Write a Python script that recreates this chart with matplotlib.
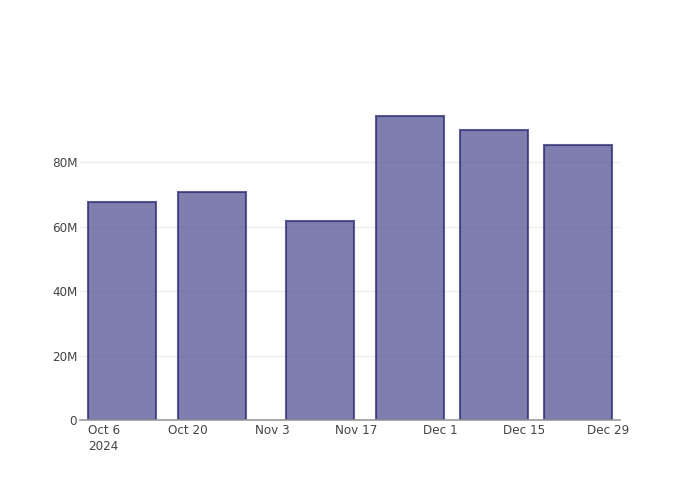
import matplotlib
matplotlib.use("Agg")
import matplotlib.pyplot as plt
import matplotlib.dates as mdates
from matplotlib.ticker import FuncFormatter
import datetime as dt

# Data
dates = ["2024-10-09", "2024-10-24", "2024-11-11", "2024-11-26", "2024-12-10", "2024-12-24"]
values = [67.5e6, 70.8e6, 61.6e6, 94.3e6, 90.1e6, 85.2e6]
tick_dates = ["2024-10-06", "2024-10-20", "2024-11-03", "2024-11-17", "2024-12-01", "2024-12-15", "2024-12-29"]
tick_labels = ["Oct 6\n2024", "Oct 20", "Nov 3", "Nov 17", "Dec 1", "Dec 15", "Dec 29"]
y_ticks = [0, 20e6, 40e6, 60e6, 80e6]

plt.rcParams['font.family'] = ['DejaVu Sans']
fig = plt.figure(figsize=(7, 5), dpi=100)
ax = fig.add_axes([80/700, 80/500, 540/700, 320/500])

x = [mdates.date2num(dt.datetime.fromisoformat(d)) for d in dates]
ax.bar(x, values, width=11.3, color=(72/255, 72/255, 142/255, 0.7),
       edgecolor=(35/255, 35/255, 110/255, 0.72), linewidth=1.5, zorder=3)

ax.set_xlim(mdates.date2num(dt.datetime(2024, 10, 2)), mdates.date2num(dt.datetime(2024, 12, 31)))
ax.set_ylim(0, 99.3e6)

ax.set_xticks([mdates.date2num(dt.datetime.fromisoformat(d)) for d in tick_dates])
ax.set_xticklabels(tick_labels, fontsize=8.64, color='#444444', linespacing=1.25)
ax.get_xticklabels()[0].set_multialignment('left')
ax.set_yticks(y_ticks)
ax.yaxis.set_major_formatter(FuncFormatter(lambda v, p: "0" if v == 0 else f"{int(v/1e6)}M"))
for lab in ax.get_yticklabels():
    lab.set_fontsize(8.64)
    lab.set_color('#444444')
ax.tick_params(axis='both', length=0)
ax.tick_params(axis='x', pad=3)
ax.tick_params(axis='y', pad=2)

ax.grid(axis='y', color='#eeeeee', linewidth=1, zorder=0)
for s in ['top', 'right', 'left']:
    ax.spines[s].set_visible(False)
ax.spines['bottom'].set_color('#999999')
ax.spines['bottom'].set_linewidth(1.2)
ax.spines['bottom'].set_zorder(4)

fig.savefig("out.png", dpi=100)
